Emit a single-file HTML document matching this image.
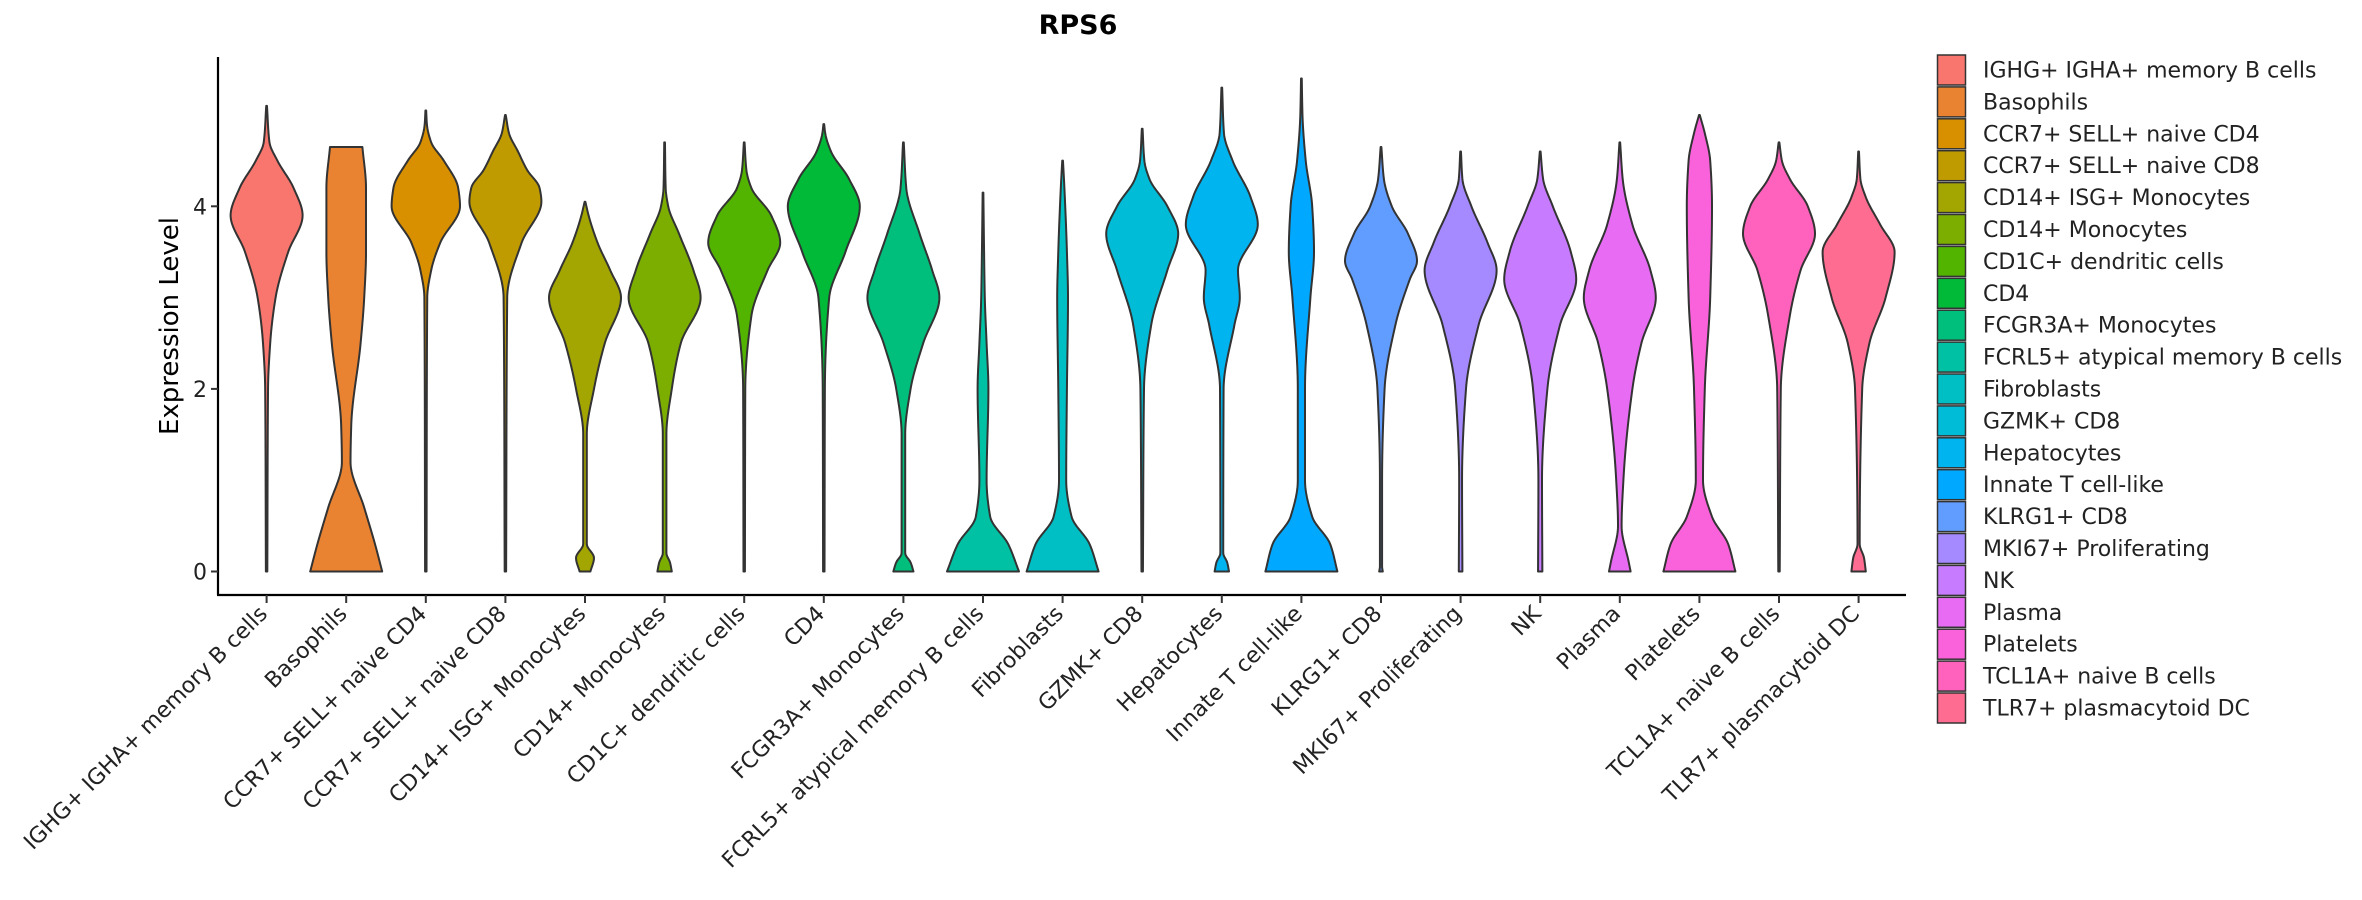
<!DOCTYPE html>
<html><head><meta charset="utf-8"><style>
body{margin:0;background:#fff;}
svg{display:block;font-family:"DejaVu Sans","Liberation Sans",sans-serif;}
</style></head><body>
<svg id="chart" width="2362" height="900" viewBox="0 0 2362 900">
<text x="1078" y="34" font-size="27" font-weight="bold" text-anchor="middle">RPS6</text>
<text transform="translate(178,326) rotate(-90)" font-size="26" text-anchor="middle">Expression Level</text>
<g id="plot"></g>
<g id="legend"></g>
</svg>
<script>
const categories=["IGHG+ IGHA+ memory B cells","Basophils","CCR7+ SELL+ naive CD4","CCR7+ SELL+ naive CD8","CD14+ ISG+ Monocytes","CD14+ Monocytes","CD1C+ dendritic cells","CD4","FCGR3A+ Monocytes","FCRL5+ atypical memory B cells","Fibroblasts","GZMK+ CD8","Hepatocytes","Innate T cell-like","KLRG1+ CD8","MKI67+ Proliferating","NK","Plasma","Platelets","TCL1A+ naive B cells","TLR7+ plasmacytoid DC"];
const colors=["#F8766D","#EA8331","#D89000","#C09B00","#A3A500","#7CAE00","#53B400","#00BA38","#00BF7D","#00C1A3","#00BFC4","#00BCD6","#00B4EF","#00A9FF","#619CFF","#A58AFF","#C77CFF","#E76BF3","#FA62DB","#FF62BC","#FF6C91"];
const yTicks=[0,2,4];
// density profiles: [expression, relative width]
const profiles=[
[[0,0.02],[2,0.04],[2.5,0.1],[3,0.25],[3.5,0.6],[3.9,1],[4.2,0.75],[4.5,0.3],[4.7,0.08],[5.1,0.01]],
[[0,1],[0.3,0.8],[0.7,0.5],[1.2,0.12],[1.6,0.14],[2.5,0.4],[3,0.5],[3.5,0.55],[4.2,0.55],[4.65,0.45]],
[[0,0.02],[3,0.04],[3.3,0.15],[3.6,0.4],[4,0.95],[4.2,0.9],[4.5,0.5],[4.7,0.15],[4.9,0.03],[5.05,0.01]],
[[0,0.02],[3,0.05],[3.6,0.45],[4.05,1],[4.2,0.95],[4.4,0.6],[4.6,0.35],[4.8,0.1],[5,0.01]],
[[0,0.15],[0.15,0.25],[0.3,0.05],[1.5,0.05],[2,0.25],[2.5,0.55],[3,1],[3.3,0.7],[3.6,0.35],[3.9,0.1],[4.05,0.01]],
[[0,0.2],[0.1,0.15],[0.2,0.05],[1.5,0.05],[2,0.2],[2.5,0.45],[3,1],[3.3,0.8],[3.7,0.4],[4,0.1],[4.2,0.03],[4.7,0.01]],
[[0,0.02],[2,0.03],[2.8,0.2],[3.3,0.65],[3.6,1],[3.9,0.75],[4.2,0.2],[4.4,0.06],[4.7,0.01]],
[[0,0.02],[2,0.03],[3,0.15],[3.5,0.6],[4,1],[4.3,0.7],[4.6,0.2],[4.8,0.04],[4.9,0.01]],
[[0,0.28],[0.1,0.2],[0.2,0.05],[1.5,0.05],[2,0.2],[2.5,0.55],[3,1],[3.3,0.8],[3.7,0.45],[4.2,0.08],[4.7,0.01]],
[[0,1],[0.3,0.7],[0.6,0.2],[1,0.1],[2,0.15],[2.5,0.1],[3,0.05],[3.5,0.03],[4.15,0.01]],
[[0,1],[0.3,0.75],[0.6,0.25],[1,0.1],[2,0.12],[3,0.15],[3.5,0.12],[4.2,0.05],[4.5,0.01]],
[[0,0.02],[2,0.05],[2.7,0.25],[3.3,0.7],[3.7,1],[4,0.7],[4.3,0.2],[4.5,0.06],[4.85,0.01]],
[[0,0.2],[0.1,0.15],[0.2,0.04],[2,0.05],[2.7,0.35],[3,0.5],[3.3,0.45],[3.8,1],[4.1,0.8],[4.5,0.3],[4.8,0.06],[5.3,0.01]],
[[0,1],[0.3,0.8],[0.6,0.3],[1,0.1],[2,0.1],[3,0.25],[3.5,0.35],[4,0.3],[4.5,0.12],[5,0.03],[5.4,0.01]],
[[0,0.05],[0.05,0.03],[1,0.03],[2,0.1],[2.7,0.4],[3.2,0.8],[3.4,1],[3.7,0.75],[4,0.3],[4.3,0.08],[4.65,0.01]],
[[0,0.05],[1,0.04],[2,0.15],[2.7,0.5],[3.3,1],[3.6,0.75],[4,0.3],[4.3,0.05],[4.6,0.01]],
[[0,0.06],[1,0.05],[2,0.2],[2.7,0.55],[3.2,1],[3.5,0.85],[4,0.35],[4.3,0.08],[4.6,0.01]],
[[0,0.3],[0.1,0.25],[0.5,0.05],[1,0.1],[2,0.35],[2.5,0.6],[3,1],[3.3,0.85],[3.8,0.35],[4.3,0.08],[4.7,0.01]],
[[0,1],[0.3,0.8],[0.6,0.35],[1,0.1],[2,0.15],[3,0.3],[4,0.35],[4.5,0.3],[4.8,0.15],[5,0.01]],
[[0,0.02],[2,0.05],[2.8,0.3],[3.3,0.6],[3.7,1],[4,0.8],[4.3,0.3],[4.5,0.08],[4.7,0.01]],
[[0,0.2],[0.15,0.15],[0.3,0.03],[2,0.1],[2.5,0.3],[3,0.75],[3.5,1],[3.8,0.6],[4.1,0.2],[4.3,0.05],[4.6,0.01]]
];
const NS="http://www.w3.org/2000/svg";
const X0=266.6,DX=79.6,Y0=571.5,PY=91.3,HW=36,AXL=218,AXB=595;
const xScale=i=>X0+i*DX;
const yScale=v=>Y0-v*PY;
function mk(tag,attrs,parent){const e=document.createElementNS(NS,tag);for(const k in attrs)e.setAttribute(k,attrs[k]);parent.appendChild(e);return e;}
// monotone cubic (PCHIP) interpolation of width vs expression
function pchip(pr){
 const n=pr.length,xs=pr.map(p=>p[0]),ys=pr.map(p=>p[1]);
 const h=[],dl=[];for(let i=0;i<n-1;i++){h.push(xs[i+1]-xs[i]);dl.push((ys[i+1]-ys[i])/h[i]);}
 const m=new Array(n).fill(0);m[0]=dl[0];m[n-1]=dl[n-2];
 for(let i=1;i<n-1;i++){if(dl[i-1]*dl[i]<=0)m[i]=0;else{const w1=2*h[i]+h[i-1],w2=h[i]+2*h[i-1];m[i]=(w1+w2)/(w1/dl[i-1]+w2/dl[i]);}}
 return function(x){let i=0;while(i<n-2&&x>xs[i+1])i++;
  const t=(x-xs[i])/h[i],t2=t*t,t3=t2*t;
  return (2*t3-3*t2+1)*ys[i]+(t3-2*t2+t)*h[i]*m[i]+(-2*t3+3*t2)*ys[i+1]+(t3-t2)*h[i]*m[i+1];};
}
const plot=document.getElementById('plot');
let ax=mk('line',{x1:AXL,y1:57,x2:AXL,y2:AXB,stroke:'#000','stroke-width':2.2},plot);


let bx=mk('line',{x1:AXL-1,y1:AXB,x2:1906,y2:AXB,stroke:'#000','stroke-width':2.2},plot);


yTicks.forEach(t=>{
 const y=yScale(t);
 const l=mk('line',{x1:AXL-7,y1:y,x2:AXL,y2:y,stroke:'#333','stroke-width':2},plot);
 
 
 const tx=mk('text',{x:AXL-11,y:y+8,'font-size':22,'text-anchor':'end',fill:'#222'},plot);
 tx.textContent=t;
 
 
});
categories.forEach((c,i)=>{
 const cx=xScale(i),pr=profiles[i],f=pchip(pr);
 const lo=pr[0][0],hi=pr[pr.length-1][0],N=200;
 const right=[],left=[];
 for(let k=0;k<=N;k++){const v=lo+(hi-lo)*k/N;const w=Math.max(0.008,f(v))*HW;right.push([cx+w,yScale(v)]);left.push([cx-w,yScale(v)]);}
 left.reverse();
 const pts=right.concat(left);
 const d='M'+pts.map(p=>p[0].toFixed(2)+','+p[1].toFixed(2)).join(' L')+' Z';
 const v=mk('path',{d:d,fill:colors[i],stroke:'#333','stroke-width':2,'stroke-linejoin':'round'},plot);
 
 
 const tk=mk('line',{x1:cx,y1:AXB,x2:cx,y2:AXB+8,stroke:'#333','stroke-width':2},plot);
 
 
 const lb=mk('text',{transform:'translate('+(cx+2)+','+(AXB+20)+') rotate(-45)','font-size':22,'text-anchor':'end',fill:'#222'},plot);
 lb.textContent=c;
 
 
});
const leg=document.getElementById('legend');
categories.forEach((c,i)=>{
 const y=54.5+i*31.9;
 const r=mk('rect',{x:1937.5,y:y+0.5,width:28,height:30,fill:colors[i],stroke:'#333','stroke-width':1.5},leg);
 
 
 const t=mk('text',{x:1983,y:y+23,'font-size':22,fill:'#222'},leg);
 t.textContent=(i===0?' ':'')+c;
 
 
});
</script>
</body></html>
